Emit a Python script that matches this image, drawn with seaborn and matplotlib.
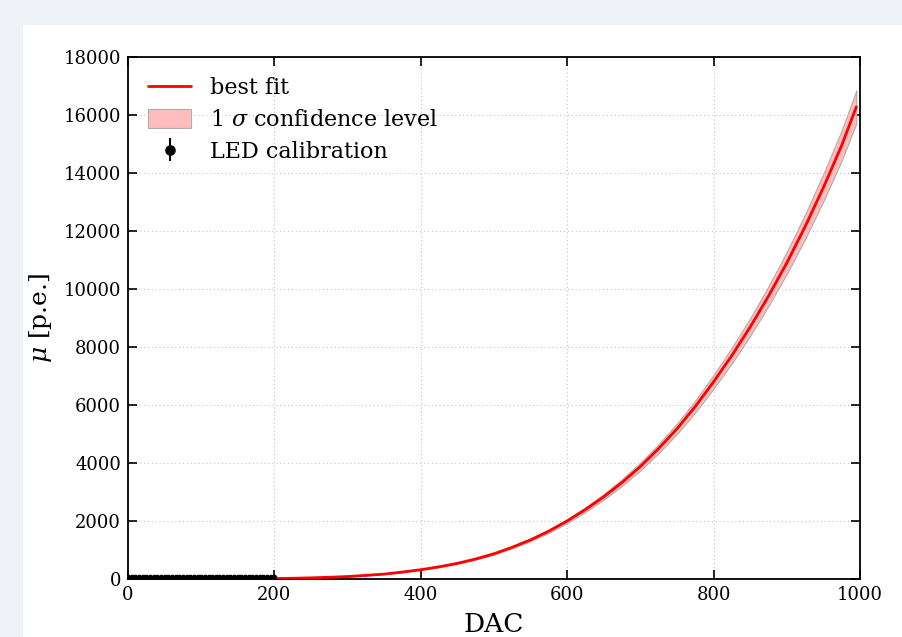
import numpy as np
import pandas as pd
import matplotlib
matplotlib.use("Agg")
import matplotlib.pyplot as plt
from matplotlib.patches import Rectangle
import seaborn as sns

# Best-fit response curve (DAC -> mean photoelectrons) and its 1 sigma band
fit_dac = [0, 100, 150, 200, 225, 250, 275, 300, 325, 350, 375, 400, 425,
           450, 475, 500, 525, 550, 575, 600, 625, 650, 675, 700, 725, 750,
           775, 800, 825, 850, 875, 900, 925, 950, 975, 995]
fit_mu = [0, 2, 6, 15, 25, 40, 60, 85, 125, 170, 240, 320, 420, 540, 690,
          870, 1095, 1350, 1650, 2000, 2395, 2835, 3330, 3880, 4500, 5180,
          5950, 6800, 7710, 8690, 9755, 10900, 12150, 13500, 14950, 16280]
fit_upper = [0, 3, 7, 16, 26, 41, 62, 88, 129, 176, 248, 331, 435, 559, 714,
             900, 1133, 1397, 1708, 2070, 2479, 2934, 3447, 4016, 4658, 5361,
             6158, 7038, 7980, 8994, 10096, 11282, 12575, 13973, 15473, 16850]
fit_lower = [0, 1, 5, 14, 24, 39, 58, 82, 121, 164, 232, 309, 405, 521, 666,
             840, 1057, 1303, 1592, 1930, 2311, 2736, 3213, 3744, 4342, 4999,
             5742, 6562, 7440, 8386, 9414, 10519, 11725, 13028, 14427, 15710]

# LED calibration measurements
led_dac = [0, 5, 10, 15, 20, 25, 30, 35, 40, 45, 50, 55, 60, 65, 70, 75, 80,
           85, 90, 95, 100, 105, 110, 115, 120, 125, 130, 135, 140, 145, 150,
           155, 160, 165, 170, 175, 180, 185, 190, 195, 200]
led_mu = [55, 56, 55, 57, 56, 58, 57, 56, 58, 57, 59, 58, 57, 59, 58, 60, 59,
          58, 60, 59, 61, 80, 82, 81, 83, 82, 84, 83, 82, 84, 83, 85, 84, 83,
          85, 84, 86, 85, 84, 86, 85]
led_err = [20, 20, 20, 20, 20, 20, 20, 20, 20, 20, 20, 20, 20, 20, 20, 20, 20,
           20, 20, 20, 20, 25, 25, 25, 25, 25, 25, 25, 25, 25, 25, 25, 25, 25,
           25, 25, 25, 25, 25, 25, 25]

xticks = [0, 200, 400, 600, 800, 1000]
yticks = [0, 2000, 4000, 6000, 8000, 10000, 12000, 14000, 16000, 18000]

sns.set_theme(style="ticks")
plt.rcParams["font.family"] = ["DejaVu Serif"]
plt.rcParams["mathtext.fontset"] = "dejavuserif"
plt.rcParams["text.color"] = "black"
plt.rcParams["axes.labelcolor"] = "black"

fit_df = pd.DataFrame({"DAC": fit_dac, "mu": fit_mu})

fig = plt.figure(figsize=(9.03, 6.37), dpi=100)
fig.patch.set_facecolor("#eff3f8")
fig.add_artist(Rectangle((23 / 903, 0), 1, 1 - 25 / 637,
                         transform=fig.transFigure, facecolor="white",
                         edgecolor="none", zorder=0))

ax = fig.add_axes([128 / 903, 1 - 579 / 637, 732 / 903, 522 / 637])
ax.set_facecolor("white")

ax.fill_between(fit_dac, fit_lower, fit_upper, facecolor="#ffb6b6",
                edgecolor="#a8a8a8", linewidth=0.8, alpha=0.9,
                label=r"1 $\sigma$ confidence level", zorder=2)
sns.lineplot(data=fit_df, x="DAC", y="mu", color="red", linewidth=2.0,
             label="best fit", ax=ax, zorder=3)
ax.errorbar(led_dac, led_mu, yerr=led_err, fmt="o", color="black",
            markersize=3, elinewidth=1.5, capsize=0,
            label="LED calibration", zorder=4)

ax.set_xlim(0, 1000)
ax.set_ylim(0, 18000)
ax.set_xticks(xticks)
ax.set_yticks(yticks)
ax.tick_params(direction="in", top=True, right=True, length=6.5, width=1.2,
               labelsize=13, colors="black", pad=5)
for s in ax.spines.values():
    s.set_linewidth(1.3)
    s.set_color("black")
    s.set_visible(True)

ax.grid(True, linestyle=(0, (1, 2.5)), color="#c4c4c4", linewidth=0.8)
ax.set_axisbelow(True)

ax.set_xlabel("DAC", fontsize=19, labelpad=6)
ax.set_ylabel(r"$\mu$ [p.e.]", fontsize=18, labelpad=7)

h, l = ax.get_legend_handles_labels()
order = [l.index("best fit"), l.index(r"1 $\sigma$ confidence level"),
         l.index("LED calibration")]
ax.legend([h[i] for i in order], [l[i] for i in order], loc="upper left",
          frameon=False, fontsize=16, handlelength=1.95, handletextpad=0.85,
          borderaxespad=0.5, borderpad=0.4, labelspacing=0.45,
          handleheight=0.9, markerscale=2.2, labelcolor="black")

fig.savefig("out.png", dpi=100, facecolor=fig.get_facecolor())
